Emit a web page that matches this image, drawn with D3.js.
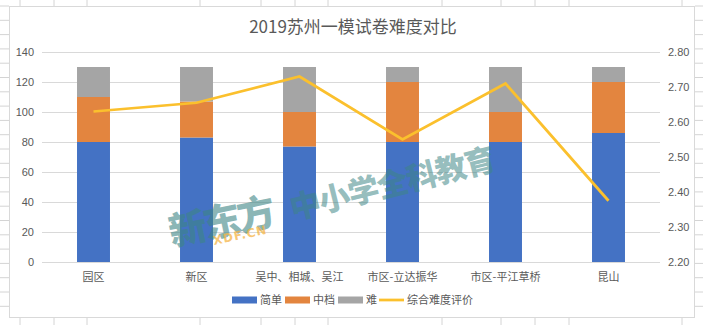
<!DOCTYPE html>
<html><head><meta charset="utf-8">
<script src="https://cdn.jsdelivr.net/npm/d3@7"></script>
<style>
html,body{margin:0;padding:0;background:#fff;}
svg{display:block;font-family:"Noto Sans CJK SC","Noto Sans",sans-serif;}
</style></head>
<body>
<svg id="c" width="703" height="325"></svg>
<script>
const categories = ["园区","新区","吴中、相城、吴江","市区-立达振华","市区-平江草桥","昆山"];
const easyValues = [80, 83, 77, 80, 80, 86];
const midValues  = [30, 24, 23, 40, 20, 34];
const hardValues = [20, 23, 30, 10, 30, 10];
const scoreValues = [2.63, 2.655, 2.73, 2.55, 2.71, 2.375];
const seriesNames = ["简单","中档","难"];
const lineName = "综合难度评价";
const leftTicks = [0,20,40,60,80,100,120,140];
const rightTicks = [2.2,2.3,2.4,2.5,2.6,2.7,2.8];
const title = "2019苏州一模试卷难度对比";

const colors = ["#4472C4","#E3853F","#A5A5A5"];
const lineColor = "#FBC02D";
const textColor = "#595959";
const gridColor = "#D9D9D9";

const svg = d3.select("#c");
const W = 703, H = 325;

// spreadsheet background cells
const bg = svg.append("g");
const colXs = [20,54,87,200,261,295,328,442,501,535,569,682];
const rowYs = d3.range(6, 320, 14.3);
colXs.forEach(x => {
  bg.append("line").attr("x1",x).attr("x2",x).attr("y1",0).attr("y2",6).attr("stroke","#d4d4d4");
  bg.append("line").attr("x1",x).attr("x2",x).attr("y1",318).attr("y2",325).attr("stroke","#d4d4d4");
});
rowYs.forEach(y => {
  bg.append("line").attr("x1",0).attr("x2",9).attr("y1",y).attr("y2",y).attr("stroke","#d4d4d4");
  bg.append("line").attr("x1",695).attr("x2",703).attr("y1",y).attr("y2",y).attr("stroke","#d4d4d4");
});
// chart area
svg.append("rect").attr("x",9.5).attr("y",6.5).attr("width",685).attr("height",311)
  .attr("fill","#fff").attr("stroke","#d9d9d9");

const plot = {left:42, right:660, top:52, bottom:262};

const x = d3.scaleBand().domain(categories).range([plot.left, plot.right])
  .paddingInner(0.68).paddingOuter(0.34);
const yL = d3.scaleLinear().domain([0,140]).range([plot.bottom, plot.top]);
const yR = d3.scaleLinear().domain([2.2,2.8]).range([plot.bottom, plot.top]);

// title
svg.append("text").attr("x",353).attr("y",33).attr("text-anchor","middle")
  .attr("font-size",17).attr("fill",textColor).text(title);

// gridlines
svg.append("g").selectAll("line").data(leftTicks).join("line")
  .attr("x1",plot.left).attr("x2",plot.right)
  .attr("y1",d=>Math.round(yL(d))+0.5).attr("y2",d=>Math.round(yL(d))+0.5)
  .attr("stroke",gridColor).attr("stroke-width",1);

// left axis
const axL = d3.axisLeft(yL).tickValues(leftTicks).tickSize(0).tickPadding(0).tickFormat(d3.format("d"));
svg.append("g").attr("transform",`translate(${plot.left-8},0)`).call(axL)
  .call(g=>g.select(".domain").remove())
  .call(g=>g.selectAll("text").attr("fill",textColor).attr("font-size",11)
     .attr("font-family","'Liberation Sans','DejaVu Sans',sans-serif"));

// right axis
const axR = d3.axisRight(yR).tickValues(rightTicks).tickSize(0).tickPadding(0).tickFormat(d3.format(".2f"));
svg.append("g").attr("transform",`translate(${plot.right+8},0)`).call(axR)
  .call(g=>g.select(".domain").remove())
  .call(g=>g.selectAll("text").attr("fill",textColor).attr("font-size",11)
     .attr("font-family","'Liberation Sans','DejaVu Sans',sans-serif"));

// stacked bars
const rows = categories.map((c,i)=>({cat:c, s0:easyValues[i], s1:midValues[i], s2:hardValues[i]}));
const stack = d3.stack().keys(["s0","s1","s2"])(rows);
svg.append("g").selectAll("g").data(stack).join("g")
  .attr("fill",(d,i)=>colors[i])
  .selectAll("rect").data(d=>d).join("rect")
  .attr("x",d=>x(d.data.cat)).attr("width",x.bandwidth())
  .attr("y",d=>yL(d[1])).attr("height",d=>yL(d[0])-yL(d[1]));

// category labels
svg.append("g").selectAll("text").data(categories).join("text")
  .attr("x",d=>x(d)+x.bandwidth()/2).attr("y",281).attr("text-anchor","middle")
  .attr("font-size",11).attr("fill",textColor).text(d=>d);

// watermark
const wm = svg.append("g").attr("pointer-events","none");
wm.append("text").attr("transform","translate(172,246) rotate(-12)")
  .attr("font-size",38).attr("font-weight",900).attr("fill","#3d8585").attr("fill-opacity",0.6)
  .attr("letter-spacing",-3).text("新东方");
wm.append("text").attr("transform","translate(214,245) rotate(-12)")
  .attr("font-size",12).attr("font-weight",900).attr("fill","#f5b547").attr("fill-opacity",0.75)
  .attr("font-family","'DejaVu Sans',sans-serif").attr("letter-spacing",1).text("XDF.CN");
wm.append("text").attr("transform","translate(293,220) rotate(-14)")
  .attr("font-size",31).attr("font-weight",900).attr("fill","#3d8585").attr("fill-opacity",0.55)
  .attr("letter-spacing",-1).text("中小学全科教育");

// line
const line = d3.line().x((d,i)=>x(categories[i])+x.bandwidth()/2).y(d=>yR(d));
svg.append("path").datum(scoreValues).attr("d",line).attr("fill","none")
  .attr("stroke",lineColor).attr("stroke-width",2.75).attr("stroke-linejoin","miter");

// legend
const leg = svg.append("g").attr("transform","translate(0,300)");
const legItems = [
  {name:seriesNames[0], type:"rect", color:colors[0], x:232},
  {name:seriesNames[1], type:"rect", color:colors[1], x:285},
  {name:seriesNames[2], type:"rect", color:colors[2], x:338},
  {name:lineName, type:"line", color:lineColor, x:379}
];
legItems.forEach(it=>{
  if(it.type==="rect"){
    leg.append("rect").attr("x",it.x).attr("y",-3.5).attr("width",25).attr("height",7).attr("fill",it.color);
  } else {
    leg.append("line").attr("x1",it.x).attr("x2",it.x+25).attr("y1",0).attr("y2",0)
      .attr("stroke",it.color).attr("stroke-width",2.75);
  }
  leg.append("text").attr("x",it.x+28).attr("y",4).attr("font-size",11).attr("fill",textColor).text(it.name);
});
</script>
</body></html>
